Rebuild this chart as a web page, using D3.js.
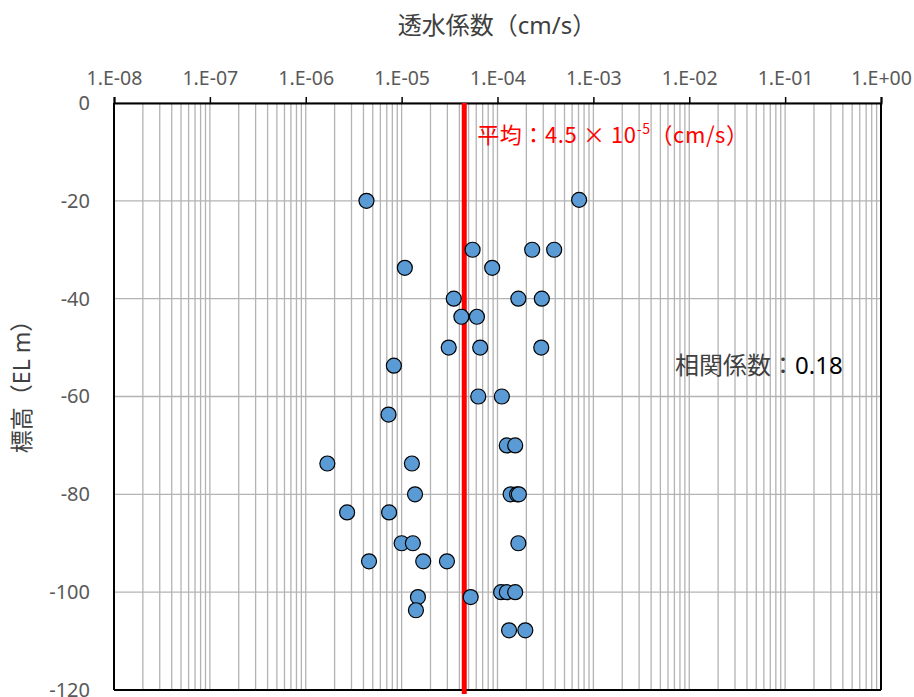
<!DOCTYPE html>
<html>
<head>
<meta charset="utf-8">
<script src="https://cdn.jsdelivr.net/npm/d3@7"></script>
<style>
  html, body { margin: 0; padding: 0; background: #fff; }
  svg { display: block; font-family: "Noto Sans", "Noto Sans CJK JP", sans-serif; }
</style>
</head>
<body>
<svg id="chart" width="914" height="697"></svg>
<script>
// Permeability (cm/s)
const permeability = [
  4.3e-6, 7.1e-4,
  5.5e-5, 2.3e-4, 3.9e-4,
  1.08e-5, 8.8e-5,
  3.5e-5, 1.65e-4, 2.9e-4,
  4.2e-5, 6.1e-5,
  3.1e-5, 6.6e-5, 2.86e-4,
  8.3e-6,
  6.3e-5, 1.11e-4,
  7.3e-6,
  1.25e-4, 1.53e-4,
  1.68e-6, 1.28e-5,
  1.38e-5, 1.37e-4, 1.6e-4, 1.67e-4,
  2.7e-6, 7.4e-6,
  1.0e-5, 1.31e-5, 1.65e-4,
  4.57e-6, 1.68e-5, 2.97e-5,
  1.48e-5, 5.25e-5,
  1.09e-4, 1.25e-4, 1.53e-4,
  1.41e-5,
  1.32e-4, 1.95e-4
];
// Elevation (EL m)
const elevation = [
  -20, -19.8,
  -30, -30, -30,
  -33.7, -33.7,
  -40, -40, -40,
  -43.7, -43.7,
  -50, -50, -50,
  -53.7,
  -60, -60,
  -63.7,
  -70, -70,
  -73.7, -73.7,
  -80, -80, -80, -80,
  -83.7, -83.7,
  -90, -90, -90,
  -93.7, -93.7, -93.7,
  -101, -101,
  -100, -100, -100,
  -103.7,
  -107.8, -107.8
];
const xTickValues = [1e-8, 1e-7, 1e-6, 1e-5, 1e-4, 1e-3, 1e-2, 1e-1, 1e0];
const xTickLabels = ["1.E-08", "1.E-07", "1.E-06", "1.E-05", "1.E-04", "1.E-03", "1.E-02", "1.E-01", "1.E+00"];
const yTickValues = [0, -20, -40, -60, -80, -100, -120];
const yTickLabels = ["0", "-20", "-40", "-60", "-80", "-100", "-120"];
const meanValue = 4.5e-5;
const correlation = 0.18;

(function () {
const svg = d3.select("#chart");
const pL = 114, pR = 881, pT = 103, pB = 690;

const x = d3.scaleLog().domain([1e-8, 1e0]).range([pL, pR]);
const y = d3.scaleLinear().domain([0, -120]).range([pT, pB]);

// minor + major vertical gridlines
const minor = [];
for (let e = -8; e < 0; e++) {
  for (let m = 1; m <= 9; m++) minor.push(m * Math.pow(10, e));
}
minor.push(1);
svg.append("g").selectAll("line").data(minor).join("line")
  .attr("x1", d => x(d)).attr("x2", d => x(d))
  .attr("y1", pT).attr("y2", pB)
  .attr("stroke", "#b3b3b3").attr("stroke-width", 1.3);

// horizontal gridlines
svg.append("g").selectAll("line").data(yTickValues).join("line")
  .attr("x1", pL).attr("x2", pR)
  .attr("y1", d => y(d)).attr("y2", d => y(d))
  .attr("stroke", "#b3b3b3").attr("stroke-width", 1.3);

// frame (left, right, bottom)
svg.append("line").attr("x1", pL).attr("x2", pL).attr("y1", pT).attr("y2", pB).attr("stroke", "#000").attr("stroke-width", 2);
svg.append("line").attr("x1", pR).attr("x2", pR).attr("y1", pT).attr("y2", pB).attr("stroke", "#000").attr("stroke-width", 2);
svg.append("line").attr("x1", pL).attr("x2", pR).attr("y1", pB).attr("y2", pB).attr("stroke", "#000").attr("stroke-width", 2);

// top axis
const xAxis = d3.axisTop(x).tickValues(xTickValues)
  .tickFormat((d, i) => xTickLabels[i]).tickSize(6).tickPadding(12);
const gx = svg.append("g").attr("transform", `translate(0,${pT})`).call(xAxis);
gx.select(".domain").attr("stroke", "#000").attr("stroke-width", 2);
gx.selectAll(".tick line").attr("stroke", "#000").attr("stroke-width", 1.5);
gx.selectAll(".tick text").attr("fill", "#595959").style("font-size", "19.5px")
  .style("font-family", "'Noto Sans', sans-serif");

// left axis labels
const yAxis = d3.axisLeft(y).tickValues(yTickValues)
  .tickFormat((d, i) => yTickLabels[i]).tickSize(0).tickPadding(24);
const gy = svg.append("g").attr("transform", `translate(${pL},0)`).call(yAxis);
gy.select(".domain").remove();
gy.selectAll(".tick text").attr("fill", "#595959").style("font-size", "20px")
  .style("font-family", "'Noto Sans', sans-serif");

// mean line
svg.append("line")
  .attr("x1", x(meanValue)).attr("x2", x(meanValue))
  .attr("y1", pT).attr("y2", pB + 4)
  .attr("stroke", "#ff0000").attr("stroke-width", 5);

const mt = svg.append("text")
  .attr("x", x(meanValue) + 13).attr("y", 143)
  .attr("fill", "#ff0000").style("font-size", "22px")
  .style("letter-spacing", "0.6px")
  .style("font-family", "'Noto Sans CJK JP', sans-serif");
mt.append("tspan").text("平均：4.5 × 10");
mt.append("tspan").attr("dy", -9).style("font-size", "14px").text("-5");
mt.append("tspan").attr("dy", 9).text("（cm/s）");

// points
svg.append("g").selectAll("circle").data(permeability.map((v, i) => [v, elevation[i]])).join("circle")
  .attr("cx", d => x(d[0])).attr("cy", d => y(d[1]))
  .attr("r", 7.5)
  .attr("fill", "#5b9bd5").attr("stroke", "#000").attr("stroke-width", 1.2);

// correlation label
const ct = svg.append("text").attr("x", 675).attr("y", 374).style("font-size", "24px");
ct.append("tspan").attr("fill", "#404040").text("相関係数：");
ct.append("tspan").attr("fill", "#000").text(correlation.toFixed(2));

// titles
svg.append("text").attr("x", 497).attr("y", 34).attr("text-anchor", "middle")
  .attr("fill", "#404040").style("font-size", "24px").text("透水係数（cm/s）");
svg.append("text").attr("transform", "translate(30,381) rotate(-90)").attr("text-anchor", "middle")
  .attr("fill", "#404040").style("font-size", "23px").text("標高（EL m）");
})();
</script>
</body>
</html>
